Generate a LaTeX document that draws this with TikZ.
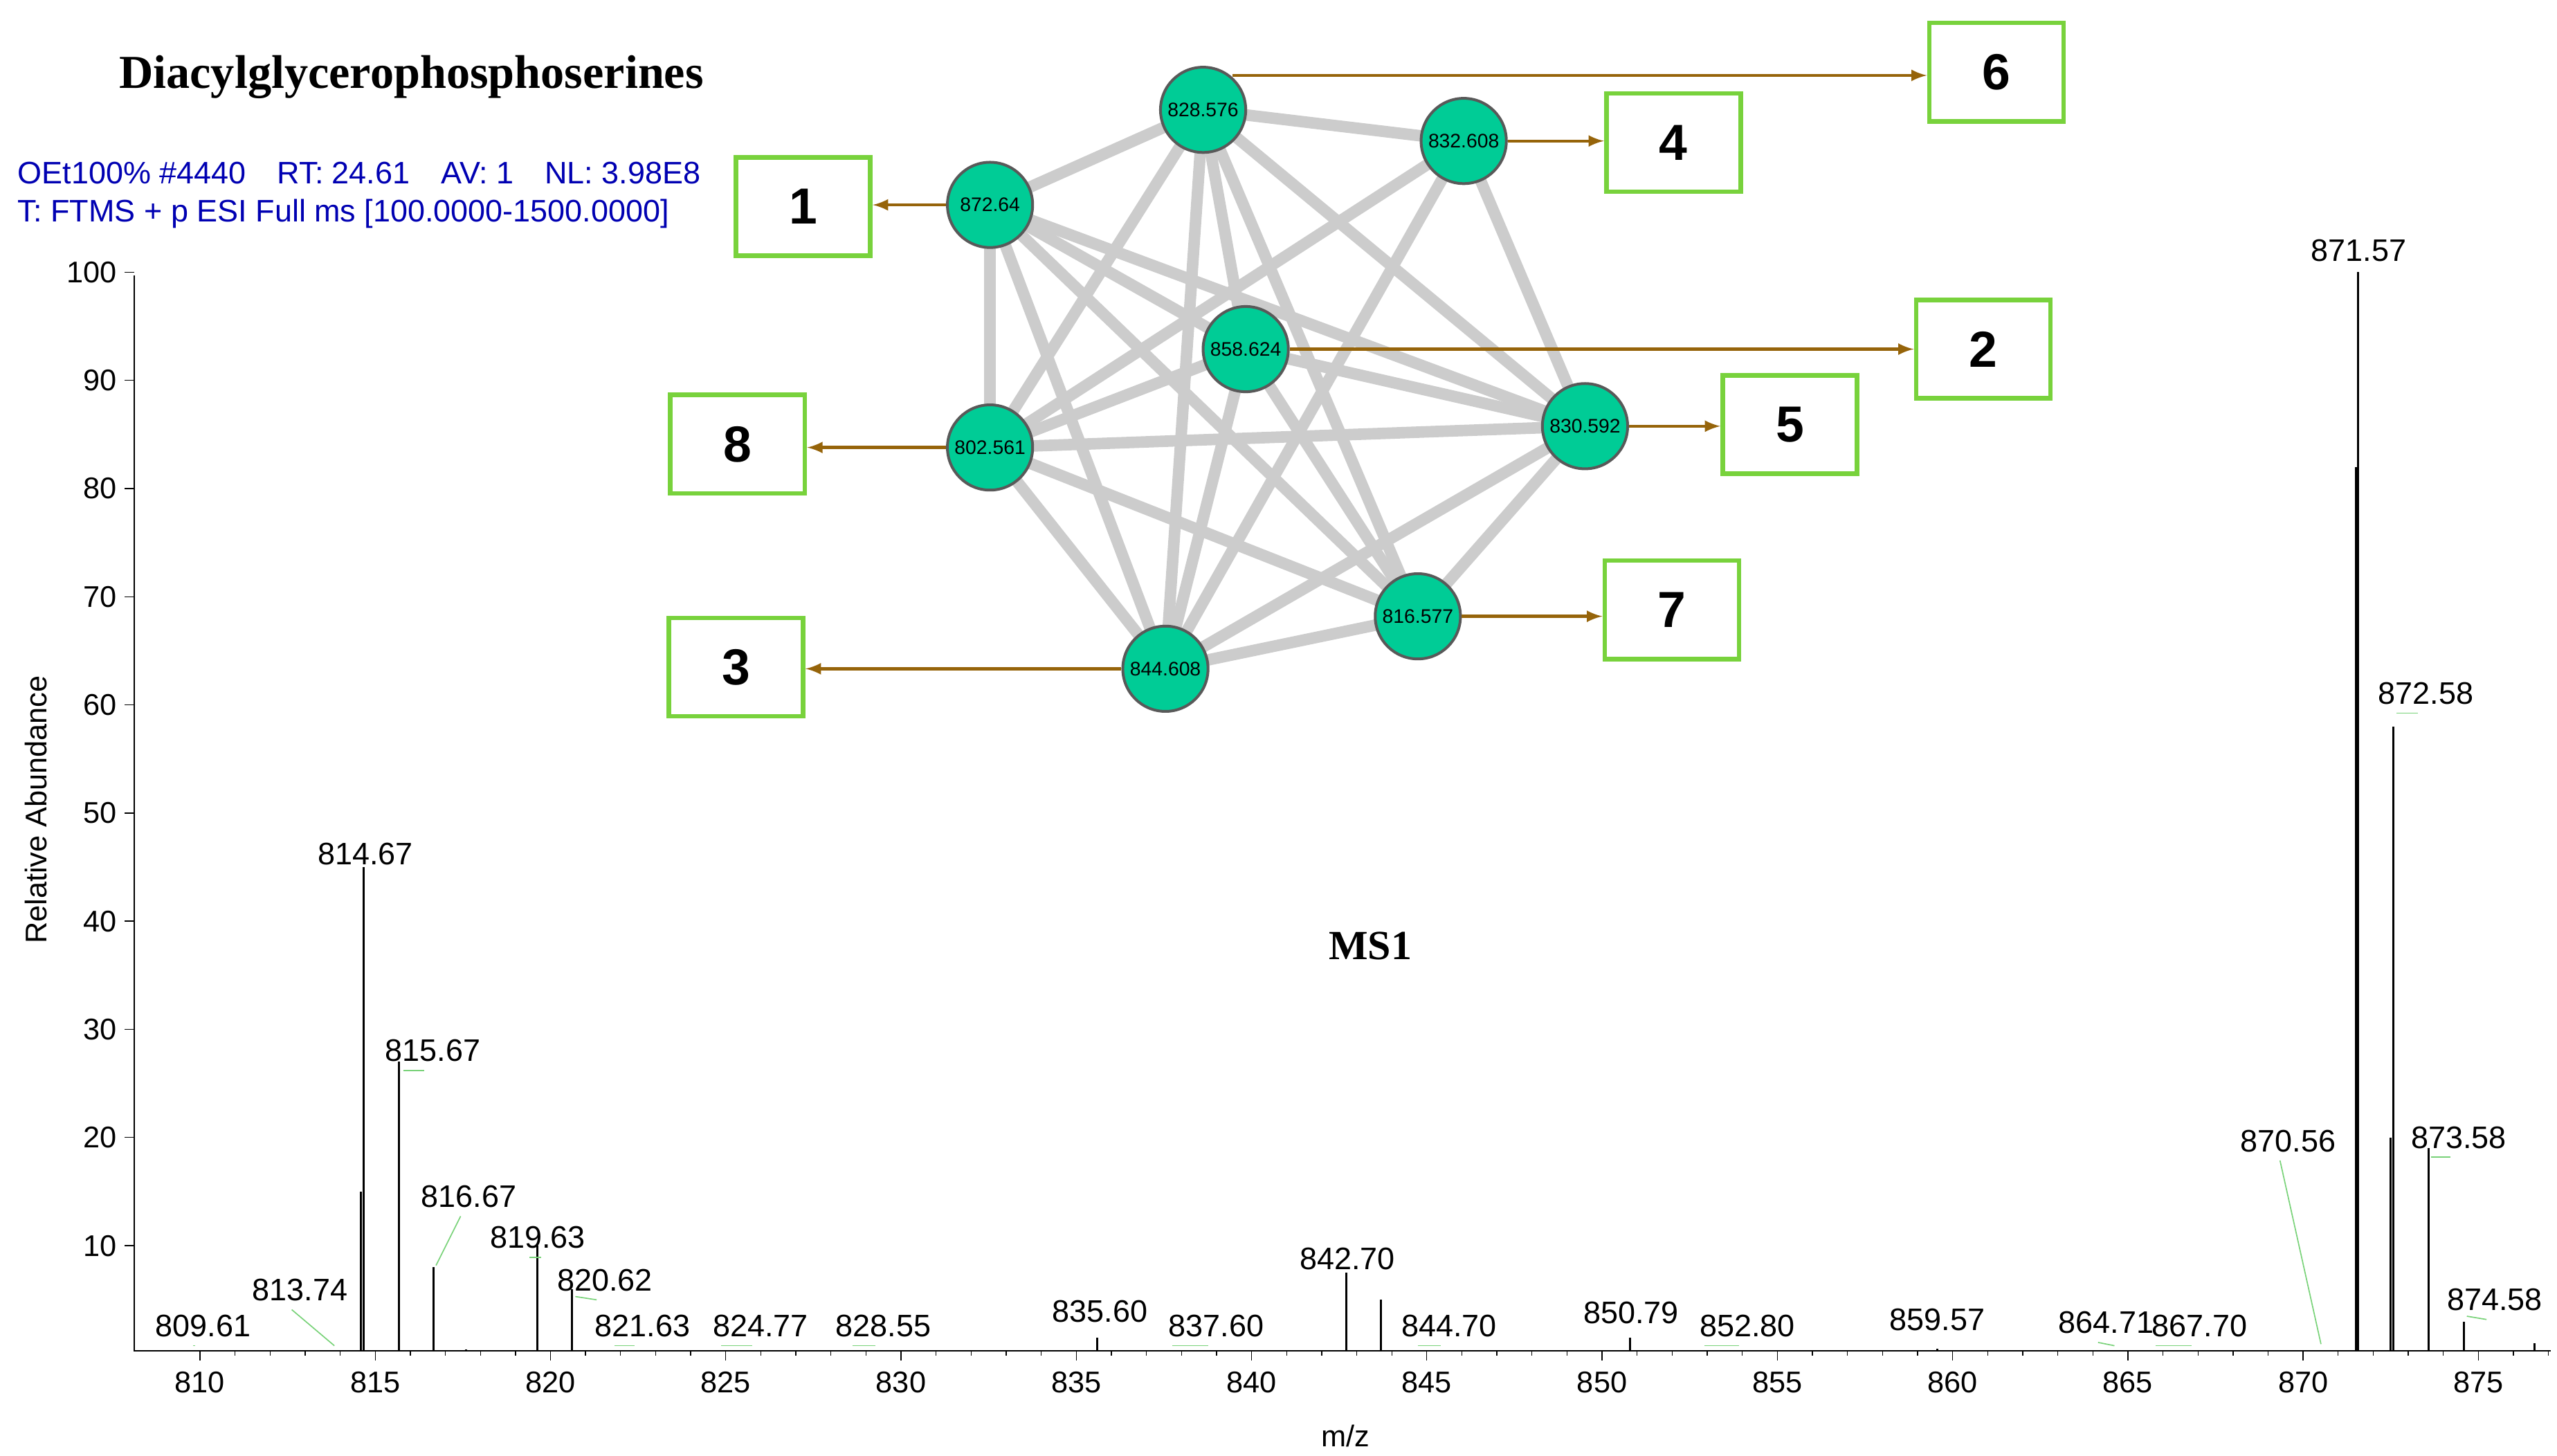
\documentclass[tikz,border=0pt]{standalone}
\usepackage{fontspec}
\setmainfont{Liberation Serif}
\newfontfamily\sans{Liberation Sans}
\begin{document}
\begin{tikzpicture}[x=0.025cm,y=-0.025cm,
  nd/.style={circle,draw=gray!70!black,line width=1.2pt,fill={rgb,255:red,0;green,204;blue,150},minimum size=1.3cm,inner sep=0pt,font=\sans\fontsize{8.5}{9}\selectfont},
  bx/.style={draw={rgb,255:red,120;green,210;blue,60},line width=2pt,fill=white,minimum width=2.05cm,minimum height=1.5cm,font=\sans\bfseries\fontsize{22}{24}\selectfont},
  ar/.style={-latex,draw={rgb,255:red,150;green,100;blue,10},line width=1.3pt},
  ed/.style={draw=gray!40,line width=5pt},
  lb/.style={font=\sans\fontsize{13.5}{14}\selectfont,inner sep=1pt},
  ax/.style={font=\sans\fontsize{13}{14}\selectfont}]
\useasboundingbox (0,0) rectangle (1560,888);
\def\X#1{122+(#1-810)*21.385}
% axes
\draw[line width=0.6pt] (82,168) -- (82,824) -- (1556,824);
\foreach \v in {10,20,...,100}{\draw (76,{826-\v*6.6}) -- (82,{826-\v*6.6}); \node[ax,anchor=east] at (76,{826-\v*6.6}) {\v};}
\foreach \v in {810,815,...,875}{\draw ({\X{\v}},824) -- ({\X{\v}},830); \node[ax,anchor=north] at ({\X{\v}},832) {\v};}
\foreach \v in {811,812,813,814,816,817,818,819,821,822,823,824,826,827,828,829,831,832,833,834,836,837,838,839,841,842,843,844,846,847,848,849,851,852,853,854,856,857,858,859,861,862,863,864,866,867,868,869,871,872,873,874,876,877}{\draw ({\X{\v}},824) -- ({\X{\v}},827);}
\node[ax] at (821,876) {m/z};
\node[ax,rotate=90] at (22,494) {Relative Abundance};
% peaks
\foreach \m/\h in {871.57/100,872.58/58,873.58/19,874.58/3,814.67/45,815.67/27,816.67/8,819.63/10,820.62/6,842.70/7.5,843.70/5,835.60/1.5,850.79/1.5,859.57/0.5,817.6/0.4,876.6/1,814.6/15,871.5/82,872.5/20}
  {\draw[line width=0.9pt] ({\X{\m}},824) -- ({\X{\m}},{826-\h*6.6});}
% peak labels with leaders
\tikzset{ld/.style={draw={rgb,255:red,120;green,210;blue,120},line width=0.5pt}}
\foreach \m/\lx/\ly/\px/\py in {809.61/124/809/118/821, 813.74/183/787/204/821, 816.67/286/730/266/772, 819.63/328/755/330/767, 820.62/369/781/351/791, 821.63/392/809/375/821, 824.77/464/809/440/821, 828.55/539/809/520/821, 837.60/742/809/715/821, 844.70/884/809/865/821, 852.80/1066/809/1040/821, 864.71/1285/807/1290/821, 867.70/1342/809/1315/821, 870.56/1396/696/1416/820, 872.58/1480/423/1462/435, 815.67/264/641/246/653, 873.58/1500/694/1483/706, 874.58/1522/793/1505/803}
  {\draw[ld] (\px,\py) -- (\lx-5,\ly+12); \node[lb] at (\lx,\ly) {\m};}
\foreach \m/\lx/\ly in {814.67/223/521, 871.57/1439/153, 835.60/671/800, 842.70/822/768, 850.79/995/801, 859.57/1182/805}
  {\node[lb] at (\lx,\ly) {\m};}
% texts
\node[font=\bfseries\fontsize{20.5}{22}\selectfont] at (251,47) {Diacylglycerophosphoserines};
\node[font=\sans\fontsize{13.5}{16.5}\selectfont,text=blue!70!black,anchor=west,align=left] at (6,119) {OEt100\% \#4440\quad RT: 24.61\quad AV: 1\quad NL: 3.98E8\\T: FTMS + p ESI Full ms [100.0000-1500.0000]};
\node[font=\bfseries\fontsize{18}{20}\selectfont] at (836,577) {MS1};
% network
\coordinate (pa) at (604,125); \coordinate (pb) at (734,67); \coordinate (pc) at (893,86);
\coordinate (pd) at (760,213); \coordinate (pe) at (967,260); \coordinate (pf) at (604,273);
\coordinate (pg) at (865,376); \coordinate (ph) at (711,408);
\foreach \a/\b in {pa/pb,pa/pf,pa/pd,pa/pe,pa/pg,pa/ph,pb/pc,pb/pd,pb/pe,pb/pf,pb/pg,pb/ph,pc/pe,pc/pf,pd/pe,pd/pf,pd/pg,pd/ph,pe/pf,pe/pg,pe/ph,pf/pg,pf/ph,pg/ph,pc/ph}
  \draw[ed] (\a) -- (\b);
\node[nd] (a) at (pa) {872.64}; \node[nd] (b) at (pb) {828.576}; \node[nd] (c) at (pc) {832.608};
\node[nd] (d) at (pd) {858.624}; \node[nd] (e) at (pe) {830.592}; \node[nd] (f) at (pf) {802.561};
\node[nd] (g) at (pg) {816.577}; \node[nd] (h) at (ph) {844.608};
\node[bx] (b1) at (490,126) {1}; \node[bx] (b6) at (1218,44) {6}; \node[bx] (b4) at (1021,87) {4};
\node[bx] (b2) at (1210,213) {2}; \node[bx] (b5) at (1092,259) {5}; \node[bx] (b8) at (450,271) {8};
\node[bx] (b7) at (1020,372) {7}; \node[bx] (b3) at (449,407) {3};
\coordinate (s6) at (752,46);
\draw[ar] (a) -- (b1.east|-a); \draw[ar] (s6) -- (b6.west|-s6); \draw[ar] (c) -- (b4.west|-c);
\draw[ar] (d) -- (b2.west|-d); \draw[ar] (e) -- (b5.west|-e); \draw[ar] (f) -- (b8.east|-f);
\draw[ar] (g) -- (b7.west|-g); \draw[ar] (h) -- (b3.east|-h);
\end{tikzpicture}
\end{document}
